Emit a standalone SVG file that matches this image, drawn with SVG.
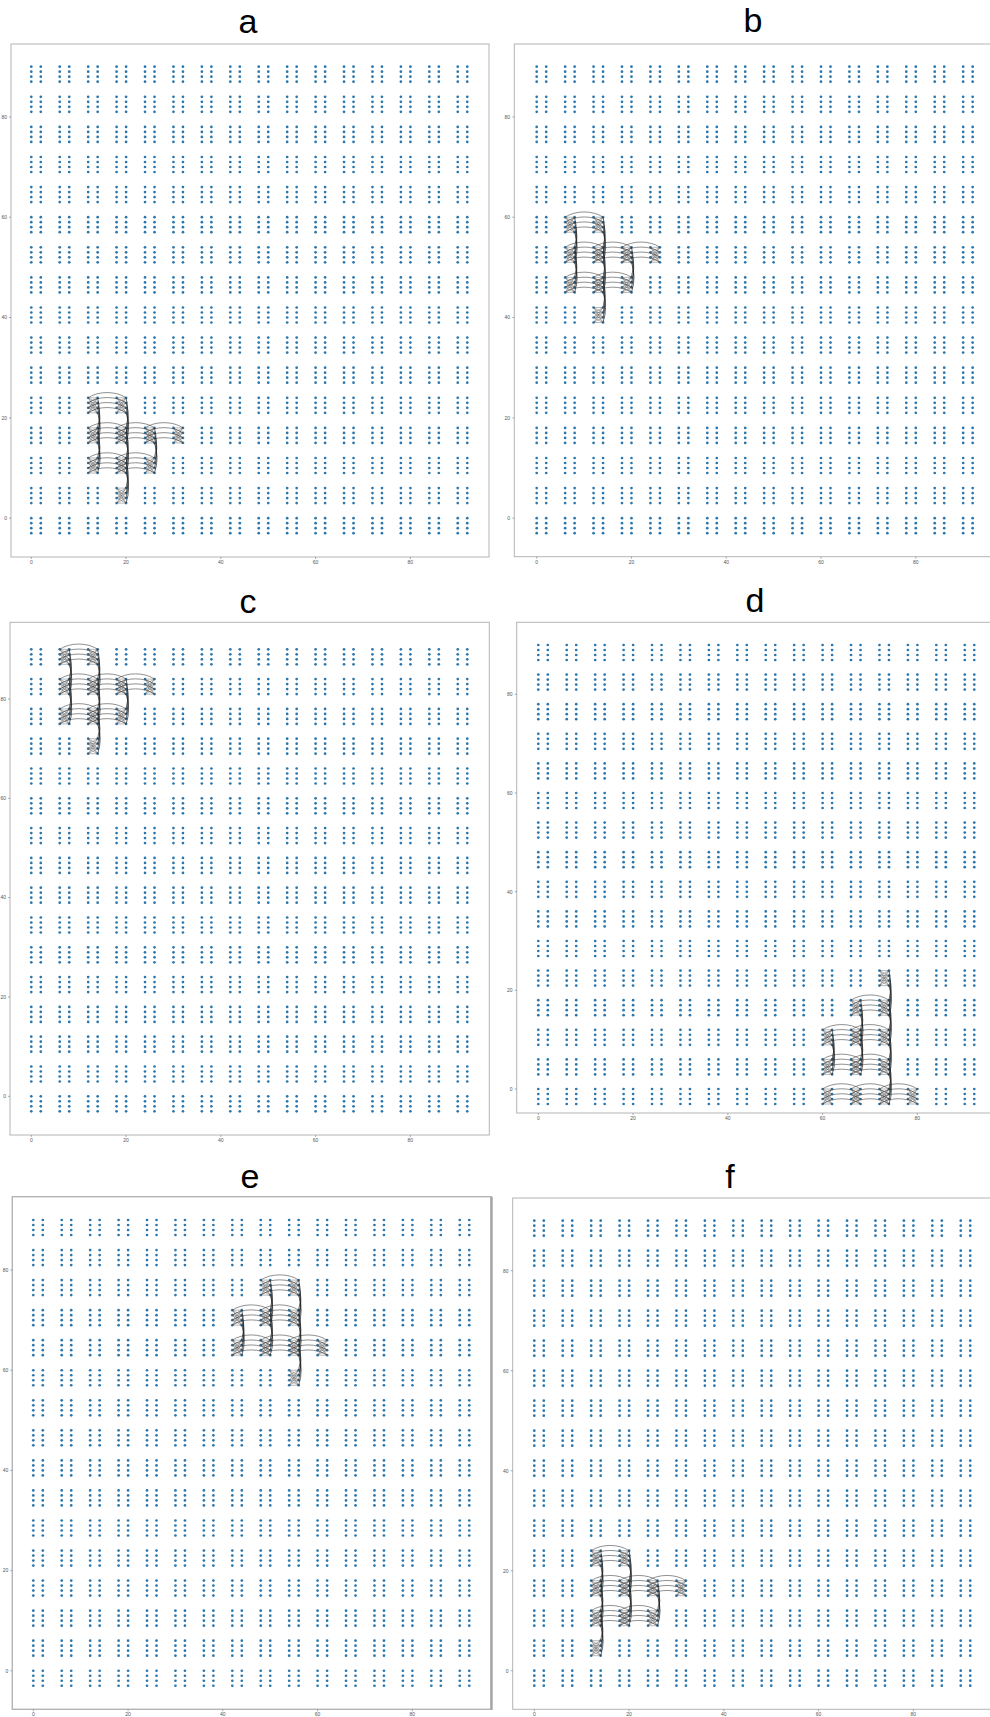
<svg xmlns="http://www.w3.org/2000/svg" width="990" height="1717" viewBox="0 0 990 1717">
<style>
.frame{fill:none;stroke:#b4b4b4;stroke-width:1}
.title{font-family:"Liberation Sans",Arial,sans-serif;font-size:34px;text-anchor:middle;fill:#000}
.tk{font-family:"Liberation Sans",sans-serif;font-size:5px;fill:#555}
.tx{text-anchor:middle}
.ty{text-anchor:end}
.tick{stroke:#777;stroke-width:0.6}
.xc{fill:none;stroke:#555;stroke-width:0.5;stroke-opacity:0.85}
.hc{fill:none;stroke:#444;stroke-width:0.6}
.vc{fill:none;stroke:#222;stroke-width:0.7}
</style>
<defs>
<g id="cell" fill="#2b77ad">
<circle cx="0" cy="0" r="1.35"/><circle cx="0" cy="5" r="1.35"/><circle cx="0" cy="10" r="1.35"/><circle cx="0" cy="15" r="1.35"/>
<circle cx="9.5" cy="0" r="1.35"/><circle cx="9.5" cy="5" r="1.35"/><circle cx="9.5" cy="10" r="1.35"/><circle cx="9.5" cy="15" r="1.35"/>
</g>
<g id="row">
<use href="#cell" x="0"/><use href="#cell" x="28.43"/><use href="#cell" x="56.86"/><use href="#cell" x="85.29"/>
<use href="#cell" x="113.72"/><use href="#cell" x="142.15"/><use href="#cell" x="170.58"/><use href="#cell" x="199.01"/>
<use href="#cell" x="227.44"/><use href="#cell" x="255.87"/><use href="#cell" x="284.3"/><use href="#cell" x="312.73"/>
<use href="#cell" x="341.16"/><use href="#cell" x="369.59"/><use href="#cell" x="398.02"/><use href="#cell" x="426.45"/>
</g>
<path id="X" class="xc" d="M0 0L9.5 0M0 0L9.5 5M0 0L9.5 10M0 0L9.5 15M0 5L9.5 0M0 5L9.5 5M0 5L9.5 10M0 5L9.5 15M0 10L9.5 0M0 10L9.5 5M0 10L9.5 10M0 10L9.5 15M0 15L9.5 0M0 15L9.5 5M0 15L9.5 10M0 15L9.5 15"/>
<path id="H" class="hc" d="M0 0C10 -7 28 -7 37.93 0M0 5C10 -2 28 -2 37.93 5M0 10C10 3 28 3 37.93 10M0 15C10 8 28 8 37.93 15"/>
<path id="V" class="vc" d="M9.5 0Q13 15 9.5 30M9.5 5Q14 20 9.5 35M9.5 10Q13.5 25 9.5 40M9.5 15Q14.5 30 9.5 45"/>
</defs>
<rect width="990" height="1717" fill="#fff"/>

<g id="panel-a">
<text class="title" x="248" y="33">a</text>
<rect class="frame" x="11" y="44" width="478" height="513"/>
<g transform="translate(31.3 66.7)">
<use href="#row" y="0"/><use href="#row" y="30.1"/><use href="#row" y="60.2"/><use href="#row" y="90.3"/><use href="#row" y="120.4"/><use href="#row" y="150.5"/><use href="#row" y="180.6"/><use href="#row" y="210.7"/><use href="#row" y="240.8"/><use href="#row" y="270.9"/><use href="#row" y="301"/><use href="#row" y="331.1"/><use href="#row" y="361.2"/><use href="#row" y="391.3"/><use href="#row" y="421.4"/><use href="#row" y="451.5"/>
</g>
<path class="tick" d="M9 116.9H11M9 217.2H11M9 317.5H11M9 417.9H11M9 518.2H11M31.3 557V559M126.07 557V559M220.84 557V559M315.61 557V559M410.38 557V559"/>
<g class="tk ty"><text x="7" y="118.7">80</text><text x="7" y="219">60</text><text x="7" y="319.3">40</text><text x="7" y="419.7">20</text><text x="7" y="520">0</text></g>
<g class="tk tx"><text x="31.3" y="563.5">0</text><text x="126.07" y="563.5">20</text><text x="220.84" y="563.5">40</text><text x="315.61" y="563.5">60</text><text x="410.38" y="563.5">80</text></g>
</g>

<g id="panel-b">
<text class="title" x="753" y="32">b</text>
<rect class="frame" x="514.3" y="44" width="480" height="512.7"/>
<g transform="translate(536.7 66.7)">
<use href="#row" y="0"/><use href="#row" y="30.1"/><use href="#row" y="60.2"/><use href="#row" y="90.3"/><use href="#row" y="120.4"/><use href="#row" y="150.5"/><use href="#row" y="180.6"/><use href="#row" y="210.7"/><use href="#row" y="240.8"/><use href="#row" y="270.9"/><use href="#row" y="301"/><use href="#row" y="331.1"/><use href="#row" y="361.2"/><use href="#row" y="391.3"/><use href="#row" y="421.4"/><use href="#row" y="451.5"/>
</g>
<path class="tick" d="M512.3 116.9H514.3M512.3 217.2H514.3M512.3 317.5H514.3M512.3 417.9H514.3M512.3 518.2H514.3M536.7 556.7V558.7M631.47 556.7V558.7M726.24 556.7V558.7M821.01 556.7V558.7M915.78 556.7V558.7"/>
<g class="tk ty"><text x="510" y="118.7">80</text><text x="510" y="219">60</text><text x="510" y="319.3">40</text><text x="510" y="419.7">20</text><text x="510" y="520">0</text></g>
<g class="tk tx"><text x="536.7" y="563.5">0</text><text x="631.47" y="563.5">20</text><text x="726.24" y="563.5">40</text><text x="821.01" y="563.5">60</text><text x="915.78" y="563.5">80</text></g>
</g>

<g id="panel-c">
<text class="title" x="248" y="613">c</text>
<rect class="frame" x="10" y="622.3" width="479.3" height="512.7"/>
<g transform="translate(31.3 649.3)">
<use href="#row" y="0"/><use href="#row" y="29.8"/><use href="#row" y="59.6"/><use href="#row" y="89.4"/><use href="#row" y="119.2"/><use href="#row" y="149"/><use href="#row" y="178.8"/><use href="#row" y="208.6"/><use href="#row" y="238.4"/><use href="#row" y="268.2"/><use href="#row" y="298"/><use href="#row" y="327.8"/><use href="#row" y="357.6"/><use href="#row" y="387.4"/><use href="#row" y="417.2"/><use href="#row" y="447"/>
</g>
<path class="tick" d="M8 699H10M8 798.3H10M8 897.6H10M8 997H10M8 1096.3H10M31.3 1135V1137M126.07 1135V1137M220.84 1135V1137M315.61 1135V1137M410.38 1135V1137"/>
<g class="tk ty"><text x="6" y="700.8">80</text><text x="6" y="800.1">60</text><text x="6" y="899.4">40</text><text x="6" y="998.8">20</text><text x="6" y="1098.1">0</text></g>
<g class="tk tx"><text x="31.3" y="1141.5">0</text><text x="126.07" y="1141.5">20</text><text x="220.84" y="1141.5">40</text><text x="315.61" y="1141.5">60</text><text x="410.38" y="1141.5">80</text></g>
</g>

<g id="panel-d">
<text class="title" x="755" y="612">d</text>
<rect class="frame" x="516.7" y="622.3" width="480" height="490.7"/>
<g transform="translate(538.3 645)">
<use href="#row" y="0"/><use href="#row" y="29.6"/><use href="#row" y="59.2"/><use href="#row" y="88.8"/><use href="#row" y="118.4"/><use href="#row" y="148"/><use href="#row" y="177.6"/><use href="#row" y="207.2"/><use href="#row" y="236.8"/><use href="#row" y="266.4"/><use href="#row" y="296"/><use href="#row" y="325.6"/><use href="#row" y="355.2"/><use href="#row" y="384.8"/><use href="#row" y="414.4"/><use href="#row" y="444"/>
</g>
<path class="tick" d="M514.7 694.3H516.7M514.7 793H516.7M514.7 891.7H516.7M514.7 990.3H516.7M514.7 1089H516.7M538.3 1113V1115M633.07 1113V1115M727.84 1113V1115M822.61 1113V1115M917.38 1113V1115"/>
<g class="tk ty"><text x="512.5" y="696.1">80</text><text x="512.5" y="794.8">60</text><text x="512.5" y="893.5">40</text><text x="512.5" y="992.1">20</text><text x="512.5" y="1090.8">0</text></g>
<g class="tk tx"><text x="538.3" y="1119.5">0</text><text x="633.07" y="1119.5">20</text><text x="727.84" y="1119.5">40</text><text x="822.61" y="1119.5">60</text><text x="917.38" y="1119.5">80</text></g>
</g>

<g id="panel-e">
<text class="title" x="250" y="1188">e</text>
<rect class="frame" x="12.3" y="1196.7" width="478.7" height="512.6" style="stroke-width:1.4"/>
<path d="M491.5 1196.7V1710" stroke="#a8a8a8" stroke-width="2.5"/>
<g transform="translate(33.3 1220)">
<use href="#row" y="0"/><use href="#row" y="30.05"/><use href="#row" y="60.1"/><use href="#row" y="90.15"/><use href="#row" y="120.2"/><use href="#row" y="150.25"/><use href="#row" y="180.3"/><use href="#row" y="210.35"/><use href="#row" y="240.4"/><use href="#row" y="270.45"/><use href="#row" y="300.5"/><use href="#row" y="330.55"/><use href="#row" y="360.6"/><use href="#row" y="390.65"/><use href="#row" y="420.7"/><use href="#row" y="450.75"/>
</g>
<path class="tick" d="M10.3 1270.1H12.3M10.3 1370.25H12.3M10.3 1470.4H12.3M10.3 1570.6H12.3M10.3 1670.75H12.3M33.3 1709.3V1711.3M128.07 1709.3V1711.3M222.84 1709.3V1711.3M317.61 1709.3V1711.3M412.38 1709.3V1711.3"/>
<g class="tk ty"><text x="8.3" y="1271.9">80</text><text x="8.3" y="1372">60</text><text x="8.3" y="1472.2">40</text><text x="8.3" y="1572.4">20</text><text x="8.3" y="1672.5">0</text></g>
<g class="tk tx"><text x="33.3" y="1715.8">0</text><text x="128.07" y="1715.8">20</text><text x="222.84" y="1715.8">40</text><text x="317.61" y="1715.8">60</text><text x="412.38" y="1715.8">80</text></g>
</g>

<g id="panel-f">
<text class="title" x="730" y="1188">f</text>
<rect class="frame" x="512.7" y="1198" width="480" height="511.3"/>
<g transform="translate(534.3 1220.7)">
<use href="#row" y="0"/><use href="#row" y="30"/><use href="#row" y="60"/><use href="#row" y="90"/><use href="#row" y="120"/><use href="#row" y="150"/><use href="#row" y="180"/><use href="#row" y="210"/><use href="#row" y="240"/><use href="#row" y="270"/><use href="#row" y="300"/><use href="#row" y="330"/><use href="#row" y="360"/><use href="#row" y="390"/><use href="#row" y="420"/><use href="#row" y="450"/>
</g>
<path class="tick" d="M510.7 1270.7H512.7M510.7 1370.7H512.7M510.7 1470.7H512.7M510.7 1570.7H512.7M510.7 1670.7H512.7M534.3 1709.3V1711.3M629.07 1709.3V1711.3M723.84 1709.3V1711.3M818.61 1709.3V1711.3M913.38 1709.3V1711.3"/>
<g class="tk ty"><text x="508.5" y="1272.5">80</text><text x="508.5" y="1372.5">60</text><text x="508.5" y="1472.5">40</text><text x="508.5" y="1572.5">20</text><text x="508.5" y="1672.5">0</text></g>
<g class="tk tx"><text x="534.3" y="1715.8">0</text><text x="629.07" y="1715.8">20</text><text x="723.84" y="1715.8">40</text><text x="818.61" y="1715.8">60</text><text x="913.38" y="1715.8">80</text></g>
</g>

<g id="connectors">
<g id="conn-a">
<use href="#X" x="88.16" y="397.8"/><use href="#X" x="116.59" y="397.8"/><use href="#X" x="88.16" y="427.9"/><use href="#X" x="116.59" y="427.9"/><use href="#X" x="145.02" y="427.9"/><use href="#X" x="173.45" y="427.9"/><use href="#X" x="88.16" y="458"/><use href="#X" x="116.59" y="458"/><use href="#X" x="145.02" y="458"/><use href="#X" x="116.59" y="488.1"/>
<use href="#H" x="88.16" y="397.8"/><use href="#H" x="88.16" y="427.9"/><use href="#H" x="116.59" y="427.9"/><use href="#H" x="145.02" y="427.9"/><use href="#H" x="88.16" y="458"/><use href="#H" x="116.59" y="458"/>
<use href="#V" x="88.16" y="397.8"/><use href="#V" x="88.16" y="427.9"/><use href="#V" x="116.59" y="397.8"/><use href="#V" x="116.59" y="427.9"/><use href="#V" x="116.59" y="458"/><use href="#V" x="145.02" y="427.9"/>
</g>
<g id="conn-b">
<use href="#X" x="565.13" y="217.2"/><use href="#X" x="593.56" y="217.2"/><use href="#X" x="565.13" y="247.3"/><use href="#X" x="593.56" y="247.3"/><use href="#X" x="621.99" y="247.3"/><use href="#X" x="650.42" y="247.3"/><use href="#X" x="565.13" y="277.4"/><use href="#X" x="593.56" y="277.4"/><use href="#X" x="621.99" y="277.4"/><use href="#X" x="593.56" y="307.5"/>
<use href="#H" x="565.13" y="217.2"/><use href="#H" x="565.13" y="247.3"/><use href="#H" x="593.56" y="247.3"/><use href="#H" x="621.99" y="247.3"/><use href="#H" x="565.13" y="277.4"/><use href="#H" x="593.56" y="277.4"/>
<use href="#V" x="565.13" y="217.2"/><use href="#V" x="565.13" y="247.3"/><use href="#V" x="593.56" y="217.2"/><use href="#V" x="593.56" y="247.3"/><use href="#V" x="593.56" y="277.4"/><use href="#V" x="621.99" y="247.3"/>
</g>
<g id="conn-c">
<use href="#X" x="59.73" y="649.3"/><use href="#X" x="88.16" y="649.3"/><use href="#X" x="59.73" y="679.1"/><use href="#X" x="88.16" y="679.1"/><use href="#X" x="116.59" y="679.1"/><use href="#X" x="145.02" y="679.1"/><use href="#X" x="59.73" y="708.9"/><use href="#X" x="88.16" y="708.9"/><use href="#X" x="116.59" y="708.9"/><use href="#X" x="88.16" y="738.7"/>
<use href="#H" x="59.73" y="649.3"/><use href="#H" x="59.73" y="679.1"/><use href="#H" x="88.16" y="679.1"/><use href="#H" x="116.59" y="679.1"/><use href="#H" x="59.73" y="708.9"/><use href="#H" x="88.16" y="708.9"/>
<use href="#V" x="59.73" y="649.3"/><use href="#V" x="59.73" y="679.1"/><use href="#V" x="88.16" y="649.3"/><use href="#V" x="88.16" y="679.1"/><use href="#V" x="88.16" y="708.9"/><use href="#V" x="116.59" y="679.1"/>
</g>
<g id="conn-d">
<use href="#X" x="879.46" y="970.6"/><use href="#X" x="851.03" y="1000.2"/><use href="#X" x="879.46" y="1000.2"/><use href="#X" x="822.6" y="1029.8"/><use href="#X" x="851.03" y="1029.8"/><use href="#X" x="879.46" y="1029.8"/><use href="#X" x="822.6" y="1059.4"/><use href="#X" x="851.03" y="1059.4"/><use href="#X" x="879.46" y="1059.4"/><use href="#X" x="822.6" y="1089"/><use href="#X" x="851.03" y="1089"/><use href="#X" x="879.46" y="1089"/><use href="#X" x="907.89" y="1089"/>
<use href="#H" x="851.03" y="1000.2"/><use href="#H" x="822.6" y="1029.8"/><use href="#H" x="851.03" y="1029.8"/><use href="#H" x="822.6" y="1059.4"/><use href="#H" x="851.03" y="1059.4"/><use href="#H" x="822.6" y="1089"/><use href="#H" x="851.03" y="1089"/><use href="#H" x="879.46" y="1089"/>
<use href="#V" x="879.46" y="970.6"/><use href="#V" x="879.46" y="1000.2"/><use href="#V" x="879.46" y="1029.8"/><use href="#V" x="879.46" y="1059.4"/><use href="#V" x="851.03" y="1000.2"/><use href="#V" x="851.03" y="1029.8"/><use href="#V" x="822.6" y="1029.8"/>
</g>
<g id="conn-e">
<use href="#X" x="260.74" y="1280.1"/><use href="#X" x="289.17" y="1280.1"/><use href="#X" x="232.31" y="1310.15"/><use href="#X" x="260.74" y="1310.15"/><use href="#X" x="289.17" y="1310.15"/><use href="#X" x="232.31" y="1340.2"/><use href="#X" x="260.74" y="1340.2"/><use href="#X" x="289.17" y="1340.2"/><use href="#X" x="317.6" y="1340.2"/><use href="#X" x="289.17" y="1370.25"/>
<use href="#H" x="260.74" y="1280.1"/><use href="#H" x="232.31" y="1310.15"/><use href="#H" x="260.74" y="1310.15"/><use href="#H" x="232.31" y="1340.2"/><use href="#H" x="260.74" y="1340.2"/><use href="#H" x="289.17" y="1340.2"/>
<use href="#V" x="260.74" y="1280.1"/><use href="#V" x="260.74" y="1310.15"/><use href="#V" x="289.17" y="1280.1"/><use href="#V" x="289.17" y="1310.15"/><use href="#V" x="289.17" y="1340.2"/><use href="#V" x="232.31" y="1310.15"/>
</g>
<g id="conn-f">
<use href="#X" x="591.16" y="1550.7"/><use href="#X" x="619.59" y="1550.7"/><use href="#X" x="591.16" y="1580.7"/><use href="#X" x="619.59" y="1580.7"/><use href="#X" x="648.02" y="1580.7"/><use href="#X" x="676.45" y="1580.7"/><use href="#X" x="591.16" y="1610.7"/><use href="#X" x="619.59" y="1610.7"/><use href="#X" x="648.02" y="1610.7"/><use href="#X" x="591.16" y="1640.7"/>
<use href="#H" x="591.16" y="1550.7"/><use href="#H" x="591.16" y="1580.7"/><use href="#H" x="619.59" y="1580.7"/><use href="#H" x="648.02" y="1580.7"/><use href="#H" x="591.16" y="1610.7"/><use href="#H" x="619.59" y="1610.7"/>
<use href="#V" x="591.16" y="1550.7"/><use href="#V" x="591.16" y="1580.7"/><use href="#V" x="591.16" y="1610.7"/><use href="#V" x="619.59" y="1550.7"/><use href="#V" x="619.59" y="1580.7"/><use href="#V" x="648.02" y="1580.7"/>
</g>
</g>
</svg>
